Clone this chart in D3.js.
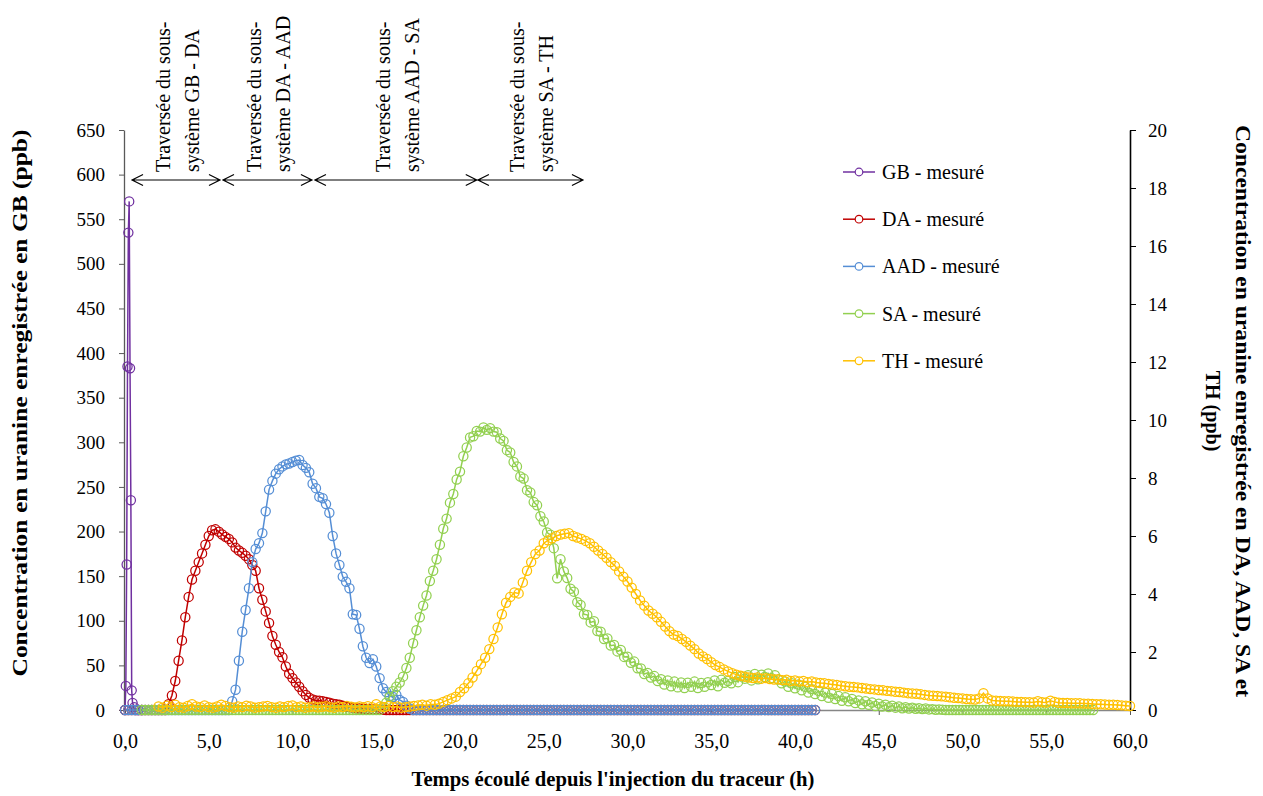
<!DOCTYPE html>
<html><head><meta charset="utf-8">
<script src="https://cdn.jsdelivr.net/npm/d3@7"></script>
<style>
body{margin:0;background:#fff}
svg{display:block}
text{font-family:"Liberation Serif","Times New Roman",serif;fill:#000}
</style>
</head><body>
<svg id="c" width="1263" height="796"></svg>
<script>
// ---------- tick values ----------
const xTicks = [0,5,10,15,20,25,30,35,40,45,50,55,60];
const yLeftTicks = [0,50,100,150,200,250,300,350,400,450,500,550,600,650];
const yRightTicks = [0,2,4,6,8,10,12,14,16,18,20];

// ---------- series ----------
const seriesNames = ["GB - mesuré","DA - mesuré","AAD - mesuré","SA - mesuré","TH - mesuré"];
const seriesColors = ["#7030A0","#C00000","#558ED5","#92D050","#FFC000"];

// GB (left axis, ppb) – irregular times (h)
const gbTimes  = [0,0.05,0.1,0.15,0.2,0.25,0.3,0.35,0.4,0.45,0.55,0.65,0.8,1.0];
const gbValues = [0,27,163,385,535,570,383,235,22,8,3,0,0,0];

// DA (right axis), every 0.2 h from 0 h ; one row = one hour
const daStart = 0, daStep = 0.2;
const daValues = [
0,0,0,0,0,  0,0,0,0,0,  0,0,0,0.2,0.5,
1.0,1.7,2.4,3.2,3.9,  4.5,4.8,5.1,5.4,5.7,  6.0,6.2,6.23,6.15,6.05,
5.97,5.9,5.78,5.6,5.5,  5.42,5.32,5.2,5.0,4.8,  4.2,3.8,3.4,3.0,2.55,
2.25,2.0,1.82,1.5,1.25,  1.1,0.95,0.8,0.65,0.52,  0.42,0.36,0.33,0.32,0.3,
0.28,0.25,0.22,0.2,0.18,  0.15,0.12,0.1,0.08,0.06,  0.05,0.04,0.03,0.03,0.02,
0.02,0.01,0.01,0,0,
0,0,0,0,0, 0,0,0,0,0, 0,0,0,0,0, 0,0,0,0,0, 0,0,0,0,0,
0,0,0,0,0, 0,0,0,0,0, 0,0,0,0,0, 0,0,0,0,0, 0,0,0,0,0,
0,0,0,0,0, 0,0,0,0,0, 0,0,0,0,0, 0,0,0,0,0, 0,0,0,0,0,
0,0,0,0,0, 0,0,0,0,0, 0,0,0,0,0, 0,0,0,0,0, 0,0,0,0,0,
0,0,0,0,0, 0,0,0,0,0, 0,0,0,0,0, 0,0,0,0,0, 0,0,0,0,0,
0,0
];

// AAD (right axis), every 0.2 h from 0 h
const aadStart = 0, aadStep = 0.2;
const aadValues = [
0,0,0,0,0, 0,0,0,0,0, 0,0,0,0,0, 0,0,0,0,0, 0,0,0,0,0, 0,0,0,0,0,
0,0,0.3,0.7,1.7,  2.7,3.45,4.2,5.1,5.55,  5.75,6.1,6.85,7.6,7.9,
8.15,8.3,8.4,8.47,8.5,  8.55,8.6,8.62,8.45,8.35,  8.2,7.8,7.65,7.35,7.3,
7.1,6.8,6.0,5.4,5.0,  4.6,4.42,4.2,3.3,3.28,  2.8,2.2,1.8,1.62,1.75,
1.5,1.1,0.75,0.62,0.48,  0.45,0.52,0.35,0.28,0.15,  0.05,0,0,0,0,
0,0,0,0,0, 0,0,0,0,0, 0,0,0,0,0, 0,0,0,0,0, 0,0,0,0,0,
0,0,0,0,0, 0,0,0,0,0, 0,0,0,0,0, 0,0,0,0,0, 0,0,0,0,0,
0,0,0,0,0, 0,0,0,0,0, 0,0,0,0,0, 0,0,0,0,0, 0,0,0,0,0,
0,0,0,0,0, 0,0,0,0,0, 0,0,0,0,0, 0,0,0,0,0, 0,0,0,0,0,
0,0,0,0,0, 0,0,0,0,0, 0,0,0,0,0,
0,0
];

// SA (right axis), every 0.2 h from 1 h
const saStart = 1, saStep = 0.2;
const saValues = [
0,0,0,0,0, 0,0,0,0,0, 0,0,0,0,0, 0,0,0,0,0, 0,0,0,0,0,
0,0,0,0,0, 0,0,0,0,0, 0,0,0,0,0, 0,0,0,0,0, 0,0,0,0,0,
0,0,0,0,0, 0,0,0,0,0, 0,0,0,0,0, 0,0,0,0,0,
0,0,0.1,0.25,0.45,        // 15
0.65,0.8,0.95,1.15,1.45,  // 16
1.8,2.3,2.75,3.2,3.6,     // 17
3.95,4.45,4.8,5.2,5.7,    // 18
6.25,6.6,7.15,7.45,7.95,  // 19
8.22,8.75,9.05,9.4,9.44,  // 20
9.62,9.6,9.74,9.66,9.72,  // 21
9.6,9.58,9.36,9.28,8.96,  // 22
8.88,8.55,8.4,8.05,7.98,  // 23
7.58,7.5,7.17,7.06,6.68,  // 24
6.5,6.12,6.04,5.58,4.54,  // 25
5.2,4.78,4.55,4.18,4.08,  // 26
3.72,3.62,3.3,3.28,3.02,  // 27
3.06,2.72,2.7,2.45,2.47,  // 28
2.22,2.24,2.02,2.07,1.83, // 29
1.84,1.63,1.67,1.44,1.43, // 30
1.24,1.28,1.12,1.17,1.0,  // 31
1.06,0.88,1.02,0.82,0.98, // 32
0.78,0.95,0.76,0.94,0.8,  // 33
0.98,0.76,0.93,0.8,0.96,  // 34
0.86,1.02,0.82,1.04,0.94, // 35
1.0,0.92,1.14,0.96,1.16,  // 36
1.08,1.2,1.02,1.24,1.06,  // 37
1.22,1.14,1.26,1.1,1.2,   // 38
1.05,0.92,0.98,0.8,0.92,  // 39
0.75,0.88,0.68,0.8,0.6,   // 40
0.72,0.55,0.66,0.48,0.6,  // 41
0.42,0.55,0.38,0.48,0.32, // 42
0.44,0.3,0.38,0.24,0.33,  // 43
0.2,0.3,0.18,0.26,0.14,   // 44
0.22,0.12,0.18,0.1,0.15,  // 45
0.08,0.12,0.06,0.1,0.05,  // 46
0.08,0.04,0.06,0.03,0.05, // 47
0.02,0.03,0.01,0.02,0.01, // 48
0,0,0,0,0, 0,0,0,0,0, 0,0,0,0,0, 0,0,0,0,0, 0,0,0,0,0, // 49-53
0,0,0,0,0, 0,0,0,0,0, 0,0,0,0,0, 0,0,0,0,0            // 54-57
];

// TH (right axis), every 0.25 h from 2 h
const thStart = 2, thStep = 0.25;
const thValues = [
0.12,0.08,0.15,0.1,  0.18,0.1,0.08,0.14,  0.2,0.12,0.1,0.16,  0.1,0.08,0.12,0.18, // 2-5
0.14,0.1,0.08,0.12,  0.1,0.15,0.12,0.08,  0.1,0.12,0.14,0.1,  0.08,0.12,0.1,0.14, // 6-9
0.16,0.1,0.12,0.08,  0.1,0.12,0.09,0.11,  0.13,0.1,0.08,0.12,  0.1,0.14,0.11,0.09, // 10-13
0.12,0.1,0.13,0.1,  0.2,0.12,0.1,0.14,  0.1,0.12,0.08,0.1,  0.12,0.14,0.16,0.18,    // 14-17
0.15,0.2,0.18,0.22,  0.28,0.34,0.4,0.46,  0.62,0.75,0.92,1.12,  1.35,1.58,1.8,2.1,   // 18-21
2.45,2.85,3.3,3.7,  3.9,4.05,4.02,4.4,  4.8,5.1,5.38,5.5,  5.75,5.85,5.92,6.0,        // 22-25
6.05,6.08,6.1,6.0,  5.95,5.9,5.83,5.75,  5.63,5.5,5.38,5.25,  5.1,4.97,4.78,4.6,      // 26-29
4.43,4.22,4.0,3.78,  3.6,3.43,3.32,3.2,  3.04,2.88,2.72,2.6,  2.55,2.45,2.35,2.22,    // 30-33
2.1,1.95,1.85,1.76,  1.65,1.55,1.48,1.4,  1.33,1.27,1.22,1.18,  1.15,1.12,1.1,1.12,   // 34-37
1.08,1.1,1.07,1.05,  1.06,1.03,1.04,1.0,  1.02,0.98,1.0,0.96,  0.98,0.95,0.93,0.92,   // 38-41
0.9,0.88,0.86,0.84,  0.82,0.8,0.79,0.78,  0.76,0.74,0.72,0.71,  0.69,0.68,0.66,0.65,  // 42-45
0.63,0.62,0.6,0.58,  0.57,0.56,0.54,0.52,  0.5,0.49,0.48,0.47,  0.46,0.44,0.42,0.41,  // 46-49
0.4,0.38,0.37,0.36,  0.4,0.58,0.4,0.33,  0.32,0.31,0.3,0.3,  0.29,0.28,0.28,0.27,     // 50-53
0.27,0.26,0.3,0.27,  0.26,0.32,0.28,0.25,  0.24,0.24,0.23,0.23,  0.23,0.22,0.22,0.21, // 54-57
0.2,0.2,0.19,0.18,  0.18,0.17,0.16,0.15,  0.14                                        // 58-60
];

// ---------- annotations ----------
const annLine1 = ["Traversée du sous-","Traversée du sous-","Traversée du sous-","Traversée du sous-"];
const annLine2 = ["système GB - DA","système DA - AAD","système AAD - SA","système SA - TH"];
const annStart = [0.42, 5.85, 11.34, 21.07];
const annEnd   = [5.67, 11.16, 21.0, 27.34];

// ---------- build ----------
function uniform(start, step, vals){ return vals.map((v,i)=>({t:start+i*step, v})); }
const seriesData = [
  gbTimes.map((t,i)=>({t, v:gbValues[i]})),
  uniform(daStart, daStep, daValues),
  uniform(aadStart, aadStep, aadValues),
  uniform(saStart, saStep, saValues),
  uniform(thStart, thStep, thValues)
];
const seriesAxis = ["L","R","R","R","R"];

const svg = d3.select("#c");
const X0=124, X1=1130, Y0=710, Y1=130;
const x  = d3.scaleLinear().domain([0,60]).range([X0+1, X1]);
const yL = d3.scaleLinear().domain([0,650]).range([Y0, Y1]);
const yR = d3.scaleLinear().domain([0,20]).range([Y0, Y1]);

// axes
const axL = svg.append("g").attr("transform",`translate(${X0},0)`)
  .call(d3.axisLeft(yL).tickValues(yLeftTicks).tickSize(5).tickSizeOuter(0).tickPadding(14).tickFormat(d3.format("d")));
axL.select(".domain").attr("stroke","#595959").attr("stroke-width",1.3);
axL.selectAll(".tick line").attr("stroke","#595959");
axL.selectAll("text").attr("font-size",19).attr("font-family","Liberation Serif");

const axR = svg.append("g").attr("transform",`translate(${X1},0)`)
  .call(d3.axisRight(yR).tickValues(yRightTicks).tickSize(6).tickSizeOuter(0).tickPadding(12));
axR.select(".domain").attr("stroke","#000").attr("stroke-width",1.6);
axR.selectAll(".tick line").attr("stroke","#000");
axR.selectAll("text").attr("font-size",19).attr("font-family","Liberation Serif");

const axB = svg.append("g").attr("transform",`translate(0,${Y0})`)
  .call(d3.axisBottom(x).tickValues(xTicks).tickSize(5).tickSizeOuter(0).tickFormat(d=>d.toFixed(1).replace(".",",")));
axB.select(".domain").attr("stroke","#868686").attr("stroke-width",1.3);
axB.selectAll(".tick line").attr("stroke","#595959");
axB.selectAll("text").attr("font-size",20).attr("font-family","Liberation Serif").attr("y",38).attr("dy",0);

// series
const plot = svg.append("g");
seriesData.forEach((data, k)=>{
  const y = seriesAxis[k]==="L" ? yL : yR;
  const g = plot.append("g");
  g.append("path").datum(data)
    .attr("d", d3.line().x(d=>x(d.t)).y(d=>y(d.v)))
    .attr("fill","none").attr("stroke",seriesColors[k]).attr("stroke-width",1.5);
  g.selectAll("circle").data(data).join("circle")
    .attr("cx",d=>x(d.t)).attr("cy",d=>y(d.v)).attr("r",4.6)
    .attr("fill","none").attr("stroke",seriesColors[k]).attr("stroke-width",1.25);
});

// legend
const leg = svg.append("g");
seriesNames.forEach((n,k)=>{
  const yy = 172 + k*47.2;
  leg.append("line").attr("x1",843).attr("x2",875).attr("y1",yy).attr("y2",yy)
    .attr("stroke",seriesColors[k]).attr("stroke-width",1.5);
  leg.append("circle").attr("cx",859).attr("cy",yy).attr("r",3.8)
    .attr("fill","#fff").attr("stroke",seriesColors[k]).attr("stroke-width",1.2);
  leg.append("text").attr("x",882).attr("y",yy+7).attr("font-size",20).text(n);
});

// annotations
const ann = svg.append("g");
annLine1.forEach((l1,k)=>{
  const xa = x(annStart[k]), xb = x(annEnd[k]), yy = 180, mid = (xa+xb)/2;
  ann.append("path")
    .attr("d",`M${xa},${yy}H${xb}M${xa+11},${yy-5.5}L${xa},${yy}L${xa+11},${yy+5.5}M${xb-11},${yy-5.5}L${xb},${yy}L${xb-11},${yy+5.5}`)
    .attr("fill","none").attr("stroke","#000").attr("stroke-width",1.2);
  ann.append("text").attr("transform",`translate(${mid-6},172) rotate(-90)`).attr("font-size",20).text(l1);
  ann.append("text").attr("transform",`translate(${mid+23},172) rotate(-90)`).attr("font-size",20).text(annLine2[k]);
});

// titles
svg.append("text").attr("transform","translate(27,403) rotate(-90)")
  .attr("text-anchor","middle").attr("font-weight","bold").attr("font-size",20)
  .attr("textLength",547).attr("lengthAdjust","spacingAndGlyphs")
  .text("Concentration en uranine enregistrée en GB (ppb)");
svg.append("text").attr("transform","translate(1236,411) rotate(90)")
  .attr("text-anchor","middle").attr("font-weight","bold").attr("font-size",20)
  .attr("textLength",572).attr("lengthAdjust","spacingAndGlyphs")
  .text("Concentration en uranine enregistrée en DA, AAD, SA et");
svg.append("text").attr("transform","translate(1206,411) rotate(90)")
  .attr("text-anchor","middle").attr("font-weight","bold").attr("font-size",20)
  .text("TH (ppb)");
svg.append("text").attr("x",613).attr("y",786)
  .attr("text-anchor","middle").attr("font-weight","bold").attr("font-size",21)
  .attr("textLength",403).attr("lengthAdjust","spacingAndGlyphs")
  .text("Temps écoulé depuis l'injection du traceur (h)");
</script>
</body></html>
